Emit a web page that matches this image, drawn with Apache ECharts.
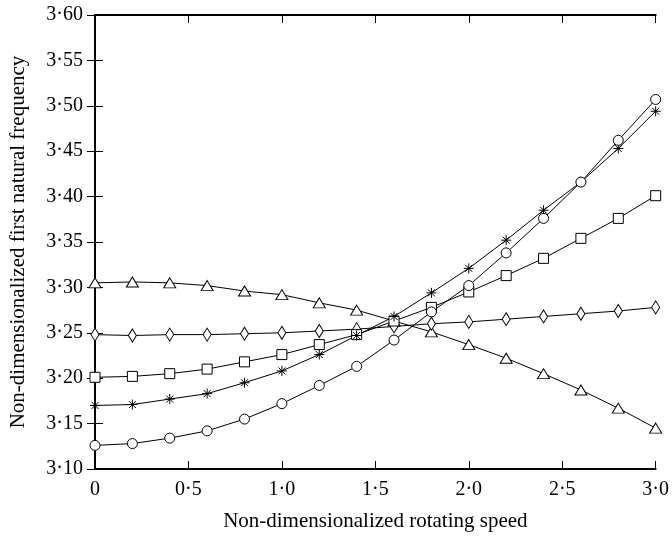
<!DOCTYPE html>
<html>
<head>
<meta charset="utf-8">
<script src="https://cdn.jsdelivr.net/npm/echarts@6/dist/echarts.min.js"></script>
<style>html,body{margin:0;padding:0;background:#fff}#c{width:672px;height:539px}</style>
</head>
<body>
<div id="c"></div>
<script>
var xValues = [0, 0.2, 0.4, 0.6, 0.8, 1.0, 1.2, 1.4, 1.6, 1.8, 2.0, 2.2, 2.4, 2.6, 2.8, 3.0];
var triangleSeries = [3.305, 3.306, 3.305, 3.302, 3.296, 3.292, 3.283, 3.275, 3.263, 3.251, 3.237, 3.222, 3.205, 3.187, 3.167, 3.145];
var diamondSeries = [3.248, 3.247, 3.248, 3.248, 3.249, 3.250, 3.252, 3.254, 3.257, 3.260, 3.262, 3.265, 3.268, 3.271, 3.274, 3.278];
var squareSeries = [3.201, 3.202, 3.205, 3.210, 3.218, 3.226, 3.237, 3.248, 3.263, 3.278, 3.295, 3.313, 3.332, 3.354, 3.376, 3.401];
var asteriskSeries = [3.170, 3.171, 3.177, 3.183, 3.195, 3.208, 3.226, 3.247, 3.268, 3.294, 3.321, 3.352, 3.385, 3.416, 3.453, 3.494];
var circleSeries = [3.126, 3.128, 3.134, 3.142, 3.155, 3.172, 3.192, 3.213, 3.242, 3.273, 3.302, 3.338, 3.376, 3.416, 3.462, 3.507];
var xTickLabels = ['0', '0·5', '1·0', '1·5', '2·0', '2·5', '3·0'];
var yTickLabels = ['3·10', '3·15', '3·20', '3·25', '3·30', '3·35', '3·40', '3·45', '3·50', '3·55', '3·60'];

function pairs(ys) { return xValues.map(function (x, i) { return [x, ys[i]]; }); }
var font = 'Liberation Serif';
var asteriskPath = 'path://M5,0L5,10M0,5L10,5M1.5,1.5L8.5,8.5M1.5,8.5L8.5,1.5';

function mk(name, data, symbol, size) {
  return {
    name: name, type: 'line', data: pairs(data), symbol: symbol, symbolSize: size,
    clip: false, showAllSymbol: true,
    lineStyle: { color: '#000', width: 1 },
    itemStyle: { color: symbol === asteriskPath ? '#000' : '#fff', borderColor: '#000', borderWidth: 1 },
    emphasis: { disabled: true }
  };
}

var chart = echarts.init(document.getElementById('c'), null, { renderer: 'canvas' });
chart.setOption({
  animation: false,
  backgroundColor: '#fff',
  grid: { left: 93, right: 7, top: 15, bottom: 70 },
  xAxis: [{
    type: 'value', min: 0, max: 3, interval: 0.5, position: 'bottom',
    name: 'Non-dimensionalized rotating speed', nameLocation: 'middle', nameGap: 42,
    nameTextStyle: { fontFamily: font, fontSize: 21, color: '#000' },
    axisLine: { lineStyle: { color: '#000', width: 2 } },
    axisTick: { inside: true, length: 8, lineStyle: { color: '#000', width: 1 } },
    axisLabel: { fontFamily: font, fontSize: 20, color: '#000', margin: 11,
      formatter: function (v) { return xTickLabels[Math.round(v / 0.5)]; } },
    splitLine: { show: false }
  }, {
    type: 'value', min: 0, max: 3, interval: 0.5, position: 'top',
    axisLine: { lineStyle: { color: '#000', width: 2 } },
    axisTick: { inside: true, length: 8, lineStyle: { color: '#000', width: 1 } },
    axisLabel: { show: false }, splitLine: { show: false }
  }],
  yAxis: [{
    type: 'value', min: 3.10, max: 3.60, interval: 0.05, position: 'left',
    name: 'Non-dimensionalized first natural frequency', nameLocation: 'middle', nameGap: 66,
    nameTextStyle: { fontFamily: font, fontSize: 21, color: '#000' },
    axisLine: { show: true, lineStyle: { color: '#000', width: 2 } },
    axisTick: { show: true, inside: true, length: 8, lineStyle: { color: '#000', width: 1 } },
    axisLabel: { fontFamily: font, fontSize: 20, color: '#000', margin: 12,
      formatter: function (v) { return yTickLabels[Math.round((v - 3.10) / 0.05)]; } },
    splitLine: { show: false }
  }, {
    type: 'value', min: 3.10, max: 3.60, interval: 0.05, position: 'right',
    axisLine: { show: true, lineStyle: { color: '#000', width: 2 } },
    axisTick: { show: true, inside: true, length: 8, lineStyle: { color: '#000', width: 1 } },
    axisLabel: { show: false }, splitLine: { show: false }
  }],
  series: [
    mk('triangle', triangleSeries, 'triangle', [12, 10]),
    mk('diamond', diamondSeries, 'diamond', [8, 13]),
    mk('square', squareSeries, 'rect', [10, 10]),
    mk('asterisk', asteriskSeries, asteriskPath, 10),
    mk('circle', circleSeries, 'circle', 10)
  ]
});
</script>
</body>
</html>
